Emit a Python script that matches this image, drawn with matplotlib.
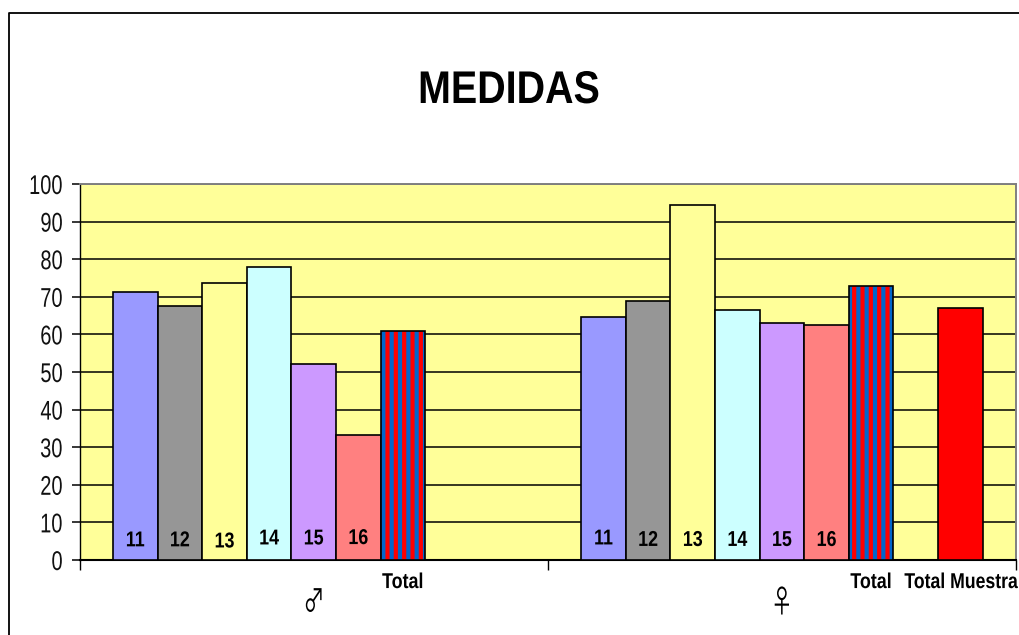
import matplotlib
matplotlib.use("Agg")
import matplotlib.pyplot as plt
from matplotlib.lines import Line2D
from matplotlib.patheffects import AbstractPathEffect
from matplotlib.transforms import Affine2D

plt.rcParams['font.family'] = ['Liberation Sans', 'DejaVu Sans']
plt.rcParams['hatch.linewidth'] = 3

edades = ["11", "12", "13", "14", "15", "16"]
hombres = [71.3, 67.6, 73.7, 78.0, 52.2, 33.3]
hombres_total = 61.0
mujeres = [64.7, 69.0, 94.4, 66.6, 63.0, 62.5]
mujeres_total = 72.9
total_muestra = 67.1
colores = ["#9999FF", "#969696", "#FFFF99", "#CCFFFF", "#CC99FF", "#FF8080"]
# ligero desplazamiento vertical de cada rotulo, como en la hoja original
rotulos_h = [5.1, 5.1, 4.8, 5.6, 5.6, 5.7]
rotulos_m = [5.6, 5.2, 5.2, 5.2, 5.2, 5.2]


# no hay Arial Narrow instalada: se estrecha el texto al dibujarlo
class Estrecho(AbstractPathEffect):
    def __init__(self, escala, ancla="center"):
        super().__init__()
        self.escala = escala
        self.ancla = ancla

    def draw_path(self, renderer, gc, tpath, affine, rgbFace=None):
        ext = tpath.get_extents()
        x0 = ext.x1 if self.ancla == "right" else (ext.x0 + ext.x1) / 2
        t = Affine2D().translate(-x0, 0).scale(self.escala, 1).translate(x0, 0)
        renderer.draw_path(gc, tpath, t + affine, rgbFace)


W, H = 1019, 635
fig = plt.figure(figsize=(W / 100, H / 100), dpi=100)
ax = fig.add_axes([79.5 / W, 1 - 560 / H, 936.5 / W, 376 / H])
ax.set_facecolor("#FFFF99")
ax.set_xlim(0, 21)
ax.set_ylim(0, 100)
ax.set_axisbelow(True)
ax.yaxis.grid(True, color="black", linewidth=1.1)
ax.set_yticks(range(0, 101, 10))
ax.tick_params(axis="y", length=5.5, width=1.1, labelsize=19.5, pad=6.5, color="black")
for t in ax.get_yticklabels():
    t.set_color("#111111")
    t.set_path_effects([Estrecho(0.74, "right")])
ax.set_xticks([0, 10.5, 21])
ax.set_xticklabels([])
ax.tick_params(axis="x", length=7.5, width=1)
ax.spines["top"].set_color("#808080")
ax.spines["right"].set_color("#808080")
ax.spines["top"].set_linewidth(1.4)
ax.spines["right"].set_linewidth(1.4)
ax.spines["left"].set_linewidth(1)
ax.spines["bottom"].set_linewidth(1.5)


def barra_rayada(x, valor):
    ax.bar(x, valor, width=1, color="#0066CC", hatch="||", edgecolor="#FF0000", linewidth=0, zorder=3)
    ax.bar(x, valor, width=1, color="none", edgecolor="black", linewidth=1.2, zorder=4)


def grupo(inicio, valores, total, alturas):
    for i, v in enumerate(valores):
        x = inicio + i
        ax.bar(x, v, width=1, color=colores[i], edgecolor="black", linewidth=1.2, zorder=3)
        ax.text(x, alturas[i], edades[i], ha="center", va="center", fontsize=15.5,
                fontweight="bold", color="black", zorder=5, path_effects=[Estrecho(0.83)])
    x_total = inicio + len(valores)
    barra_rayada(x_total, total)
    ax.text(x_total, -6, "Total", ha="center", va="center", fontsize=15.5, fontweight="bold",
            clip_on=False, path_effects=[Estrecho(0.83)])


grupo(1.25, hombres, hombres_total, rotulos_h)
grupo(11.75, mujeres, mujeres_total, rotulos_m)

ax.bar(19.75, total_muestra, width=1, color="#FF0000", edgecolor="black", linewidth=1.2, zorder=3)
# anclado a la derecha porque llega justo hasta el borde de la imagen
ax.text(21.04, -6, "Total Muestra", ha="right", va="center", fontsize=15.5, fontweight="bold",
        clip_on=False, path_effects=[Estrecho(0.82, "right")])

ax.text(5.26, -11.4, "♂", ha="center", va="center", fontsize=23, family="Noto Sans CJK SC",
        fontweight="light", clip_on=False, path_effects=[Estrecho(0.66)])
ax.text(15.75, -11.6, "♀", ha="center", va="center", fontsize=23, family="Noto Sans CJK SC",
        fontweight="light", clip_on=False, path_effects=[Estrecho(0.7)])

fig.text(509 / W, 1 - 91 / H, "MEDIDAS", ha="center", va="center", fontsize=33, fontweight="bold",
         color="black", path_effects=[Estrecho(0.86)])

# marco exterior del grafico, cortado por el borde de la imagen
fig.add_artist(Line2D([9 / W, 9 / W, 1], [0, 1 - 13 / H, 1 - 13 / H], color="black", linewidth=1.3))

fig.savefig("out.png", dpi=100)
